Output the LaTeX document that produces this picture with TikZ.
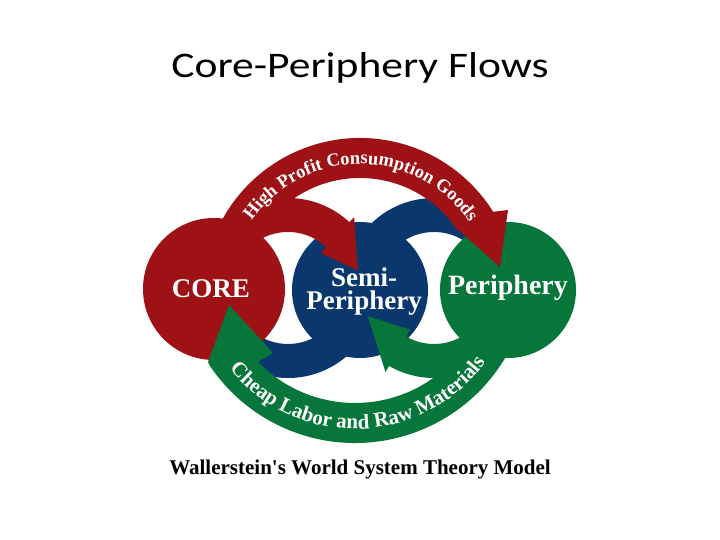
\documentclass[tikz,border=0pt]{standalone}
\usepackage{fontspec}
\setmainfont{Liberation Serif}
\newfontfamily\titlefont{Carlito}
\usetikzlibrary{calc,decorations.text}
\definecolor{corered}{RGB}{158,18,22}
\definecolor{semiblue}{RGB}{10,56,108}
\definecolor{perigreen}{RGB}{6,118,58}

\begin{document}
\begin{tikzpicture}[x=1pt, y=1pt, every node/.style={inner sep=0pt},
        blob/.style={circle, minimum size=136pt},
        lbl/.style={text=white, font=\bfseries\fontsize{27}{27}\selectfont}]
        \fill[white] (0,0) rectangle (720,540);
        \useasboundingbox (0,0) rectangle (720,540);

        \coordinate (gapL) at (288,252);
        \coordinate (gapR) at (434,252);
        \coordinate (topC) at (360,245);
        \coordinate (botC) at (355,272);

        \fill[semiblue] ($(gapR)+(170:90)$) arc[start angle=170, end angle=58, radius=90]
            -- ($(gapR)+(58:56)$) arc[start angle=58, end angle=170, radius=56] -- cycle;
        \fill[semiblue] ($(gapL)+(-10:90)$) arc[start angle=-10, end angle=-150, radius=90]
            -- ($(gapL)+(-150:56)$) arc[start angle=-150, end angle=-10, radius=56] -- cycle;

        \node (core) at (214,251) [blob, fill=corered, minimum size=142pt] {};
        \node (semi) at (360,250) [blob, fill=semiblue] {};
        \node (peri) at (508,250) [blob, fill=perigreen] {};

        \fill[corered] ($(gapL)+(140:90)$) arc[start angle=140, end angle=47, radius=90]
            -- ($(gapL)+(47:97)$) -- ($(gapL)+(14:72)$) -- ($(gapL)+(47:48)$)
            -- ($(gapL)+(47:56)$) arc[start angle=47, end angle=140, radius=56] -- cycle;
        \fill[perigreen] ($(gapR)+(-20:90)$) arc[start angle=-20, end angle=-120, radius=90]
            -- ($(gapR)+(-120:97)$) -- ($(gapR)+(-157:72)$) -- ($(gapR)+(-120:48)$)
            -- ($(gapR)+(-120:56)$) arc[start angle=-120, end angle=-20, radius=56] -- cycle;

        \fill[corered] ($(topC)+(165:157)$) arc[start angle=165, end angle=32, radius=157]
            -- (508,330) -- (500,273) -- (455,313)
            -- ($(topC)+(34:117)$) arc[start angle=34, end angle=165, radius=117] -- cycle;
        \fill[perigreen] ($(botC)+(-25:175)$) arc[start angle=-25, end angle=-146, radius=175]
            -- (208,178) -- (229,235) -- (273,187)
            -- ($(botC)+(-136:135)$) arc[start angle=-136, end angle=-25, radius=135] -- cycle;

        \path[decorate, decoration={text along path, text align=center, text color=white,
            text={|\bfseries\fontsize{18.5}{18.5}\selectfont|High Profit Consumption Goods}}]
            ($(topC)+(165:131)$) arc[start angle=165, end angle=14, radius=131];
        \path[decorate, decoration={text along path, text align=center, text color=white,
            text={|\bfseries\fontsize{21}{21}\selectfont|Cheap Labor and Raw Materials}}]
            ($(botC)+(195:161)$) arc[start angle=195, end angle=348, radius=161];

        \node (corelbl) at (211,251) [lbl] {CORE};
        \node (semilbl) at (364,253) [lbl, anchor=base] {Semi-};
        \node (semilblb) at (364,230) [lbl, anchor=base] {Periphery};
        \node (perilbl) at (508,245) [lbl, anchor=base, font=\bfseries\fontsize{28}{28}\selectfont] {Periphery};

        \node (title) at (360,462) [anchor=base, xscale=1.21, transform shape, font=\titlefont\fontsize{36}{36}\selectfont] {Core-Periphery Flows};
        \node (caption) at (360,65) [anchor=base, font=\bfseries\fontsize{21}{21}\selectfont] {Wallerstein\textquotesingle s World System Theory Model};
\end{tikzpicture}
\end{document}
